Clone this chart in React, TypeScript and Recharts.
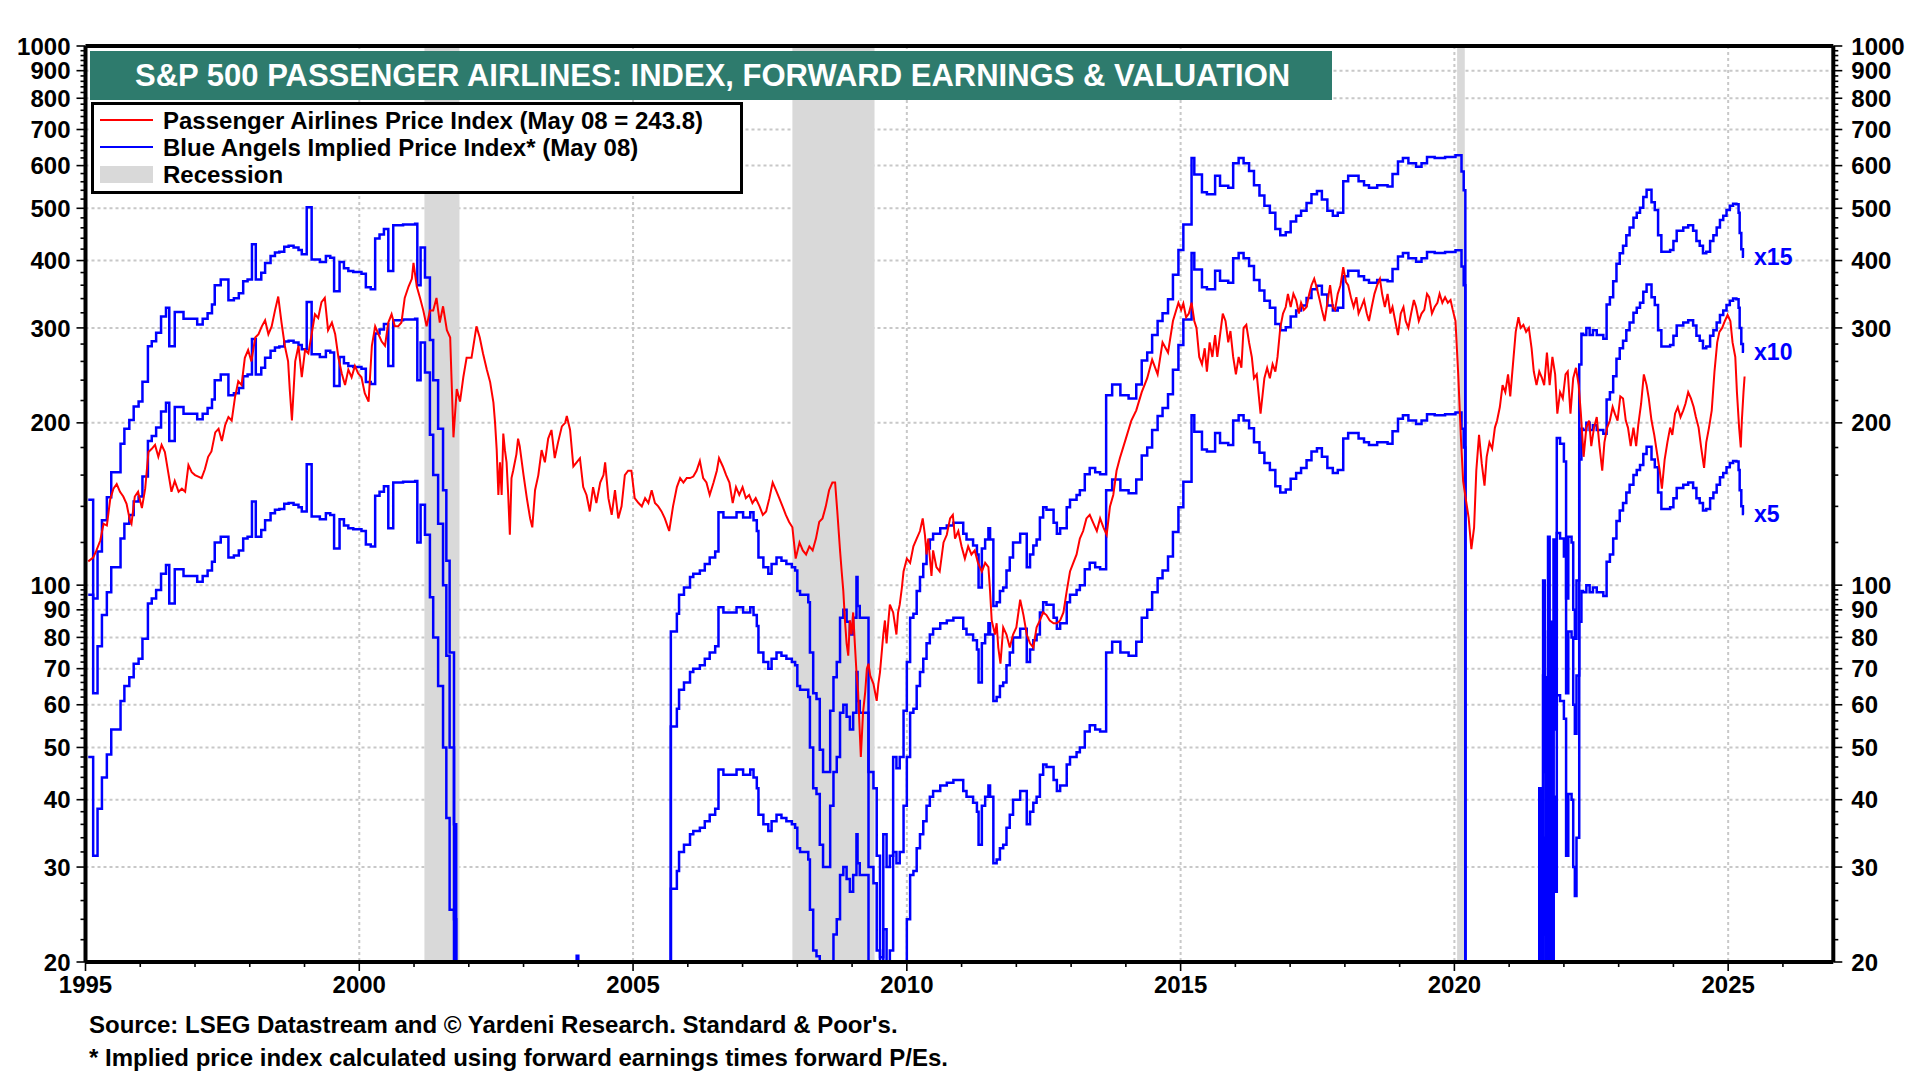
import React from "react";
import {
  LineChart,
  Line,
  XAxis,
  YAxis,
  CartesianGrid,
  ReferenceArea,
  ReferenceLine,
} from "recharts";

// ---------- DATA ----------
// S&P 500 Passenger Airlines price index (weekly-ish samples, [decimal year, value])
const priceIndex: [number, number][] = [
  [1995.05, 110.7], [1995.14, 112.5], [1995.2, 116], [1995.27, 121], [1995.33, 130], [1995.39, 129],
  [1995.45, 144], [1995.51, 151], [1995.57, 154], [1995.63, 149], [1995.69, 146], [1995.75, 141.5],
  [1995.81, 132], [1995.84, 130], [1995.9, 146], [1995.96, 149], [1996.03, 139], [1996.09, 151],
  [1996.15, 176.6], [1996.21, 179], [1996.27, 182], [1996.33, 173], [1996.39, 182], [1996.45, 176.6],
  [1996.51, 162], [1996.57, 149], [1996.63, 156], [1996.7, 149], [1996.76, 151], [1996.82, 149],
  [1996.88, 167], [1996.94, 162], [1997.0, 160], [1997.06, 159], [1997.12, 158], [1997.18, 164],
  [1997.24, 173], [1997.3, 177], [1997.37, 192], [1997.43, 195], [1997.49, 185], [1997.55, 198],
  [1997.61, 205], [1997.67, 202], [1997.73, 223], [1997.79, 239], [1997.85, 235], [1997.91, 264],
  [1997.97, 273], [1998.03, 260], [1998.1, 288], [1998.16, 292], [1998.22, 302], [1998.28, 310],
  [1998.34, 292], [1998.4, 302], [1998.46, 323], [1998.52, 343], [1998.58, 307], [1998.64, 278],
  [1998.7, 260], [1998.73, 231], [1998.77, 202], [1998.83, 260], [1998.89, 278], [1998.95, 243],
  [1999.01, 273], [1999.07, 269], [1999.13, 292], [1999.19, 318], [1999.25, 313], [1999.31, 335],
  [1999.37, 341], [1999.43, 297], [1999.5, 307], [1999.56, 292], [1999.62, 264], [1999.68, 247],
  [1999.74, 235], [1999.8, 251], [1999.86, 243], [1999.92, 255], [1999.98, 247], [2000.04, 243],
  [2000.1, 227], [2000.17, 219], [2000.23, 278], [2000.29, 302], [2000.35, 292], [2000.41, 283],
  [2000.47, 278], [2000.53, 307], [2000.59, 318], [2000.65, 302], [2000.71, 302], [2000.77, 307],
  [2000.83, 341], [2000.9, 358], [2000.96, 370], [2000.99, 396], [2001.05, 358], [2001.11, 341],
  [2001.17, 323], [2001.23, 302], [2001.29, 323], [2001.35, 323], [2001.41, 341], [2001.47, 307],
  [2001.53, 329], [2001.6, 297], [2001.66, 288], [2001.72, 188], [2001.78, 231], [2001.84, 219],
  [2001.9, 243], [2001.96, 264], [2002.05, 264], [2002.14, 302], [2002.2, 288], [2002.26, 269],
  [2002.33, 251], [2002.39, 238], [2002.45, 218], [2002.48, 200], [2002.51, 178], [2002.54, 147],
  [2002.57, 169], [2002.6, 147], [2002.63, 191], [2002.66, 178], [2002.69, 169], [2002.72, 147],
  [2002.75, 124], [2002.78, 158], [2002.81, 163], [2002.87, 175], [2002.9, 187], [2002.93, 181],
  [2003.0, 160], [2003.06, 145], [2003.12, 133], [2003.16, 128], [2003.21, 150], [2003.27, 160],
  [2003.33, 178], [2003.39, 169], [2003.45, 187], [2003.51, 194], [2003.57, 172], [2003.63, 184],
  [2003.7, 197], [2003.76, 200], [2003.79, 206], [2003.85, 194], [2003.91, 166], [2003.97, 169],
  [2004.03, 172], [2004.09, 152], [2004.15, 147], [2004.21, 137], [2004.27, 152], [2004.33, 142],
  [2004.4, 155], [2004.46, 160], [2004.49, 169], [2004.55, 145], [2004.61, 135], [2004.67, 150],
  [2004.73, 133], [2004.79, 140], [2004.85, 160], [2004.91, 163], [2004.97, 163], [2005.03, 145],
  [2005.1, 142], [2005.16, 140], [2005.22, 145], [2005.28, 142], [2005.34, 150], [2005.4, 142],
  [2005.46, 140], [2005.52, 137], [2005.58, 133], [2005.66, 126], [2005.73, 140], [2005.8, 152],
  [2005.86, 158], [2005.92, 155], [2005.98, 158], [2006.04, 158], [2006.1, 159], [2006.16, 163],
  [2006.22, 170], [2006.28, 158], [2006.34, 155], [2006.4, 147], [2006.47, 155], [2006.53, 163],
  [2006.57, 172], [2006.64, 166], [2006.7, 160], [2006.76, 155], [2006.82, 142], [2006.88, 152],
  [2006.94, 147], [2007.0, 152], [2007.06, 145], [2007.12, 147], [2007.18, 142], [2007.24, 145],
  [2007.31, 140], [2007.37, 135], [2007.43, 137], [2007.49, 145], [2007.55, 155], [2007.61, 150],
  [2007.67, 145], [2007.73, 140], [2007.79, 135], [2007.85, 131], [2007.91, 128], [2007.97, 112],
  [2008.04, 120], [2008.1, 116], [2008.16, 114], [2008.22, 118], [2008.28, 116], [2008.34, 122],
  [2008.4, 131], [2008.46, 133], [2008.52, 140], [2008.58, 150], [2008.64, 155], [2008.69, 155],
  [2008.73, 137], [2008.78, 116], [2008.81, 106], [2008.84, 97.5], [2008.87, 86], [2008.9, 78],
  [2008.93, 74], [2008.96, 86], [2008.99, 81], [2009.02, 89], [2009.05, 78], [2009.08, 69],
  [2009.11, 63.4], [2009.14, 53.4], [2009.16, 48], [2009.2, 58], [2009.24, 63.4], [2009.27, 70],
  [2009.3, 71.5], [2009.33, 68], [2009.39, 65.6], [2009.45, 61], [2009.48, 65.6], [2009.51, 69],
  [2009.57, 81], [2009.6, 86], [2009.63, 78], [2009.66, 85], [2009.69, 92], [2009.75, 89],
  [2009.81, 81], [2009.84, 89], [2009.87, 92], [2009.91, 99], [2009.94, 106], [2010.0, 112],
  [2010.06, 110], [2010.12, 118], [2010.18, 122], [2010.24, 126], [2010.29, 133], [2010.33, 124],
  [2010.36, 114], [2010.39, 122], [2010.45, 104], [2010.48, 116], [2010.54, 108], [2010.6, 106],
  [2010.67, 120], [2010.73, 124], [2010.79, 133], [2010.84, 135], [2010.88, 122], [2010.94, 126],
  [2011.0, 118], [2011.06, 112], [2011.12, 118], [2011.18, 114], [2011.24, 116], [2011.3, 110],
  [2011.37, 106], [2011.43, 110], [2011.49, 108], [2011.52, 97.5], [2011.55, 86], [2011.61, 81],
  [2011.64, 85], [2011.67, 76.6], [2011.71, 71.5], [2011.76, 83.5], [2011.82, 81], [2011.88, 76.6],
  [2011.94, 81], [2012.0, 83.5], [2012.07, 94], [2012.13, 88], [2012.19, 81], [2012.25, 78],
  [2012.31, 76.6], [2012.37, 83.5], [2012.43, 86], [2012.49, 89], [2012.55, 88], [2012.61, 86],
  [2012.68, 85], [2012.74, 85], [2012.8, 86], [2012.86, 89], [2012.92, 97.5], [2012.98, 106],
  [2013.04, 110], [2013.1, 114], [2013.16, 122], [2013.22, 126], [2013.28, 133], [2013.34, 135],
  [2013.41, 130], [2013.47, 126], [2013.53, 133], [2013.59, 128], [2013.65, 124], [2013.71, 140],
  [2013.77, 147], [2013.83, 163], [2013.89, 172], [2014.0, 187], [2014.1, 202], [2014.19, 211],
  [2014.29, 228], [2014.39, 242], [2014.48, 262], [2014.58, 246], [2014.67, 282], [2014.77, 270],
  [2014.86, 309], [2014.96, 334], [2015.01, 324], [2015.05, 333], [2015.1, 314], [2015.15, 319],
  [2015.2, 334], [2015.25, 309], [2015.29, 300], [2015.34, 265], [2015.39, 257], [2015.44, 275],
  [2015.48, 249], [2015.53, 282], [2015.58, 265], [2015.63, 291], [2015.67, 265], [2015.72, 291],
  [2015.77, 319], [2015.82, 309], [2015.87, 282], [2015.91, 296], [2015.96, 265], [2016.01, 246],
  [2016.06, 265], [2016.11, 253], [2016.15, 300], [2016.2, 304], [2016.25, 282], [2016.3, 265],
  [2016.34, 242], [2016.39, 246], [2016.46, 208], [2016.53, 242], [2016.58, 253], [2016.63, 242],
  [2016.68, 257], [2016.73, 249], [2016.77, 265], [2016.82, 300], [2016.87, 319], [2016.92, 328],
  [2016.96, 347], [2017.01, 328], [2017.06, 347], [2017.11, 338], [2017.16, 319], [2017.2, 334],
  [2017.25, 324], [2017.3, 328], [2017.35, 347], [2017.39, 360], [2017.44, 370], [2017.49, 355],
  [2017.54, 338], [2017.58, 324], [2017.63, 309], [2017.68, 334], [2017.73, 360], [2017.78, 328],
  [2017.82, 324], [2017.87, 347], [2017.92, 360], [2017.97, 389], [2018.02, 365], [2018.06, 360],
  [2018.11, 342], [2018.16, 328], [2018.21, 342], [2018.25, 319], [2018.3, 328], [2018.35, 338],
  [2018.4, 319], [2018.44, 309], [2018.49, 328], [2018.54, 347], [2018.59, 360], [2018.64, 370],
  [2018.68, 347], [2018.73, 328], [2018.78, 347], [2018.83, 319], [2018.87, 328], [2018.92, 309],
  [2018.97, 291], [2019.02, 319], [2019.07, 328], [2019.11, 309], [2019.16, 300], [2019.21, 319],
  [2019.26, 338], [2019.3, 328], [2019.35, 309], [2019.4, 319], [2019.45, 324], [2019.5, 347],
  [2019.54, 342], [2019.59, 319], [2019.64, 328], [2019.69, 334], [2019.73, 347], [2019.78, 334],
  [2019.83, 342], [2019.88, 334], [2019.93, 338], [2019.97, 324], [2020.02, 309], [2020.07, 246],
  [2020.12, 187], [2020.16, 156], [2020.21, 144], [2020.26, 133.5], [2020.31, 116.6], [2020.36, 128],
  [2020.4, 163], [2020.45, 190], [2020.5, 168], [2020.55, 153], [2020.59, 173], [2020.64, 184],
  [2020.69, 179], [2020.74, 196], [2020.78, 202], [2020.83, 214], [2020.88, 235], [2020.93, 228],
  [2020.98, 246], [2021.02, 224], [2021.07, 257], [2021.12, 295], [2021.17, 314], [2021.21, 300],
  [2021.26, 304], [2021.31, 295], [2021.36, 300], [2021.41, 275], [2021.45, 249], [2021.5, 235],
  [2021.55, 249], [2021.6, 242], [2021.64, 235], [2021.69, 270], [2021.74, 235], [2021.79, 265],
  [2021.84, 246], [2021.88, 208], [2021.93, 228], [2021.98, 222], [2022.03, 246], [2022.07, 249],
  [2022.12, 208], [2022.17, 242], [2022.22, 253], [2022.27, 235], [2022.31, 208], [2022.36, 173],
  [2022.41, 196], [2022.46, 202], [2022.5, 181], [2022.55, 196], [2022.6, 205], [2022.65, 181],
  [2022.7, 163], [2022.74, 184], [2022.79, 196], [2022.84, 202], [2022.89, 214], [2022.93, 208],
  [2022.98, 202], [2023.03, 224], [2023.08, 222], [2023.13, 202], [2023.17, 196], [2023.22, 181],
  [2023.27, 196], [2023.32, 181], [2023.36, 199], [2023.41, 217], [2023.46, 246], [2023.51, 235],
  [2023.55, 222], [2023.6, 202], [2023.65, 190], [2023.7, 176], [2023.75, 163], [2023.79, 151],
  [2023.84, 171], [2023.89, 184], [2023.94, 196], [2023.98, 190], [2024.03, 208], [2024.08, 214],
  [2024.13, 205], [2024.18, 211], [2024.22, 217], [2024.27, 228], [2024.32, 222], [2024.37, 214],
  [2024.41, 205], [2024.46, 196], [2024.51, 179], [2024.56, 165], [2024.6, 184], [2024.65, 196],
  [2024.7, 211], [2024.75, 249], [2024.8, 282], [2024.84, 295], [2024.89, 300], [2024.94, 309],
  [2024.99, 317], [2025.04, 309], [2025.08, 282], [2025.13, 265], [2025.16, 228], [2025.2, 196],
  [2025.23, 180], [2025.25, 202], [2025.28, 228], [2025.3, 243.8],
];

// Forward earnings (monthly steps, [decimal year, earnings]); -1 = negative / not meaningful
const forwardEarnings: [number, number][] = [
  [1995.05, 9.6], [1995.14, 6.3], [1995.22, 7.7], [1995.3, 8.8], [1995.39, 9.7], [1995.47, 10.8],
  [1995.64, 12.2], [1995.71, 13.0], [1995.8, 13.5], [1995.88, 14.3], [1995.97, 14.6], [1996.04, 15.9],
  [1996.14, 18.5], [1996.21, 18.9], [1996.29, 19.6], [1996.38, 21.0], [1996.47, 21.8], [1996.53, 18.5],
  [1996.63, 21.4], [1996.79, 20.8], [1997.04, 20.3], [1997.14, 20.8], [1997.23, 21.3], [1997.31, 22.1],
  [1997.36, 24.0], [1997.47, 24.6], [1997.61, 22.5], [1997.71, 22.7], [1997.8, 23.2], [1997.88, 24.4],
  [1997.96, 24.6], [1998.04, 28.6], [1998.11, 24.6], [1998.21, 25.3], [1998.28, 26.4], [1998.38, 27.2],
  [1998.46, 27.6], [1998.54, 27.7], [1998.63, 28.3], [1998.71, 28.4], [1998.8, 28.2], [1998.89, 27.9],
  [1998.95, 27.4], [1999.04, 33.5], [1999.13, 26.8], [1999.28, 26.5], [1999.39, 27.2], [1999.47, 27.0],
  [1999.54, 23.4], [1999.64, 26.5], [1999.72, 25.8], [1999.8, 25.5], [1999.89, 25.4], [2000.04, 25.2],
  [2000.12, 23.8], [2000.21, 23.6], [2000.29, 29.3], [2000.37, 29.8], [2000.45, 30.5], [2000.53, 25.5],
  [2000.62, 31.0], [2000.8, 31.1], [2001.02, 31.2], [2001.06, 24.0], [2001.12, 28.2], [2001.2, 24.8],
  [2001.29, 19.0], [2001.35, 16.0], [2001.44, 13.0], [2001.53, 10.0], [2001.59, 7.4], [2001.65, 5.0],
  [2001.73, 2.4], [2001.77, -1], [2003.97, 1.37], [2004.0, -1],
  [2005.69, 5.47], [2005.8, 5.9], [2005.84, 6.4], [2005.93, 6.6], [2006.04, 6.9], [2006.1, 7.0],
  [2006.22, 7.1], [2006.31, 7.3], [2006.4, 7.5], [2006.5, 7.7], [2006.56, 9.1], [2006.65, 8.9],
  [2006.89, 9.1], [2007.01, 8.9], [2007.14, 9.1], [2007.2, 8.8], [2007.26, 8.4], [2007.29, 7.5],
  [2007.38, 7.2], [2007.47, 7.0], [2007.53, 7.3], [2007.62, 7.5], [2007.71, 7.4], [2007.8, 7.3],
  [2007.9, 7.2], [2007.96, 7.1], [2008.0, 6.5], [2008.05, 6.4], [2008.2, 6.2], [2008.23, 5.0],
  [2008.29, 4.2], [2008.35, 4.1], [2008.41, 3.3], [2008.47, 3.0], [2008.6, 3.9], [2008.66, 4.5],
  [2008.72, 4.8], [2008.78, 5.8], [2008.84, 6.0], [2008.9, 5.7], [2008.96, 5.4], [2009.02, 5.8],
  [2009.08, 6.9], [2009.1, 6.1], [2009.14, 5.8], [2009.3, 3.0], [2009.39, 2.8], [2009.45, 2.1],
  [2009.51, 1.36], [2009.57, 2.3], [2009.63, 2.0], [2009.69, 2.1], [2009.75, 3.2], [2009.81, 3.05],
  [2009.87, 3.2], [2009.94, 3.9], [2010.0, 4.8], [2010.06, 5.8], [2010.12, 5.9], [2010.18, 6.5],
  [2010.24, 6.9], [2010.3, 7.3], [2010.36, 7.8], [2010.42, 8.1], [2010.48, 8.3], [2010.61, 8.5],
  [2010.73, 8.6], [2010.85, 8.7], [2011.03, 8.3], [2011.09, 8.1], [2011.21, 7.9], [2011.28, 7.6],
  [2011.31, 6.6], [2011.37, 7.8], [2011.43, 8.1], [2011.49, 8.5], [2011.52, 8.1], [2011.58, 6.1],
  [2011.64, 6.2], [2011.7, 6.5], [2011.76, 6.6], [2011.82, 7.1], [2011.88, 7.5], [2011.94, 8.0],
  [2012.07, 8.3], [2012.19, 7.2], [2012.25, 7.6], [2012.31, 7.9], [2012.37, 8.1], [2012.43, 8.9],
  [2012.49, 9.3], [2012.55, 9.2], [2012.68, 8.7], [2012.74, 8.3], [2012.8, 8.5], [2012.92, 9.3],
  [2012.98, 9.6], [2013.1, 9.8], [2013.16, 10.0], [2013.25, 10.7], [2013.34, 11.0], [2013.44, 10.8],
  [2013.53, 10.7], [2013.64, 15.0], [2013.75, 15.7], [2013.9, 15.0], [2014.05, 14.8], [2014.19, 15.7],
  [2014.29, 17.4], [2014.39, 18.0], [2014.48, 19.4], [2014.58, 20.6], [2014.67, 21.3], [2014.77, 22.6],
  [2014.86, 25.1], [2014.96, 27.9], [2015.05, 31.1], [2015.2, 41.3], [2015.25, 38.5], [2015.39, 35.7],
  [2015.48, 35.4], [2015.63, 38.3], [2015.72, 36.7], [2015.87, 36.4], [2015.96, 40.4], [2016.06, 41.3],
  [2016.15, 40.4], [2016.25, 39.1], [2016.34, 36.8], [2016.44, 35.2], [2016.53, 33.7], [2016.63, 32.7],
  [2016.73, 30.5], [2016.82, 29.7], [2016.92, 30.1], [2017.01, 31.5], [2017.11, 32.3], [2017.2, 33.0],
  [2017.3, 34.1], [2017.39, 35.4], [2017.49, 35.9], [2017.58, 34.6], [2017.68, 33.0], [2017.78, 32.3],
  [2017.87, 32.7], [2017.97, 37.4], [2018.06, 38.3], [2018.25, 37.4], [2018.35, 36.8], [2018.44, 36.4],
  [2018.59, 36.8], [2018.78, 36.6], [2018.87, 38.6], [2018.97, 40.7], [2019.06, 41.3], [2019.16, 40.4],
  [2019.3, 39.8], [2019.4, 40.4], [2019.5, 41.5], [2019.64, 41.3], [2019.83, 41.5], [2020.02, 41.8],
  [2020.13, 39.0], [2020.17, 36.0], [2020.2, -1],
  [2021.55, 2.8], [2021.59, 1.5], [2021.62, 6.8], [2021.65, 4.5], [2021.67, 0.8], [2021.69, 3.7],
  [2021.71, 8.2], [2021.74, 1.7], [2021.77, 5.7], [2021.79, 0.9], [2021.81, 8.1], [2021.84, 5.4],
  [2021.87, 12.5], [2021.93, 12.2], [2022.0, 11.3], [2022.04, 6.3], [2022.08, 8.2], [2022.14, 8.0],
  [2022.17, 6.0], [2022.2, 5.3], [2022.23, 6.8], [2022.28, 17.1], [2022.32, 19.5], [2022.35, 19.4],
  [2022.41, 20.0], [2022.47, 19.4], [2022.53, 19.8], [2022.6, 19.4], [2022.72, 19.1], [2022.78, 22.1],
  [2022.84, 22.8], [2022.9, 24.4], [2022.96, 26.3], [2023.02, 27.5], [2023.08, 28.4], [2023.14, 29.7],
  [2023.2, 30.7], [2023.27, 32.0], [2023.33, 32.7], [2023.39, 33.4], [2023.45, 35.0], [2023.51, 36.1],
  [2023.6, 34.2], [2023.66, 33.1], [2023.72, 29.7], [2023.78, 27.7], [2023.94, 27.9], [2024.0, 29.0],
  [2024.06, 30.3], [2024.18, 30.7], [2024.27, 31.0], [2024.36, 30.3], [2024.42, 29.0], [2024.48, 28.4],
  [2024.54, 27.5], [2024.6, 27.7], [2024.67, 29.0], [2024.73, 29.7], [2024.79, 30.7], [2024.85, 31.7],
  [2024.91, 32.3], [2024.97, 33.1], [2025.03, 33.7], [2025.09, 34.0], [2025.15, 33.9], [2025.19, 32.7],
  [2025.21, 30.0], [2025.24, 28.0], [2025.27, 27.1], [2025.29, 27.1],
];

const peMultiples = [15, 10, 5];
const multipleLabels = ["x15", "x10", "x5"];

const recessions: [number, number][] = [
  [2001.19, 2001.83],
  [2007.91, 2009.41],
  [2020.05, 2020.19],
];

const yMajorTicks = [20, 30, 40, 50, 60, 70, 80, 90, 100, 200, 300, 400, 500, 600, 700, 800, 900, 1000];
const yMinorTicks: number[] = [];
for (let v = 22; v < 100; v += 2) if (v % 10 !== 0) yMinorTicks.push(v);
for (let v = 120; v < 1000; v += 20) if (v % 100 !== 0) yMinorTicks.push(v);
const yAllTicks = [...yMajorTicks, ...yMinorTicks].sort((a, b) => a - b);

const xYearTicks: number[] = [];
for (let y = 1995; y <= 2026; y++) xYearTicks.push(y);
const xMajorTicks = xYearTicks.filter((y) => y % 5 === 0);
const xGridValues = xMajorTicks.filter((y) => y > 1995);
const yGridValues = yMajorTicks.filter((v) => v > 20 && v < 1000);

const TITLE = "S&P 500 PASSENGER AIRLINES: INDEX, FORWARD EARNINGS & VALUATION";
const LEGEND_PRICE = "Passenger Airlines Price Index (May 08 = 243.8)";
const LEGEND_IMPLIED = "Blue Angels Implied Price Index* (May 08)";
const LEGEND_RECESSION = "Recession";
const SOURCE_1 = "Source: LSEG Datastream and \u00A9 Yardeni Research. Standard & Poor's.";
const SOURCE_2 = "* Implied price index calculated using forward earnings times forward P/Es.";

// ---------- DERIVED TABLES ----------
const FLOOR = 1; // below axis range: shown as a plunge off the bottom
const priceData = priceIndex.map(([t, v]) => ({ t, v }));
const impliedData = peMultiples.map((m) =>
  forwardEarnings.map(([t, e]) => ({ t, v: e > 0 ? e * m : FLOOR }))
);

// ---------- STYLE ----------
const FONT = "'Liberation Sans', Arial, Helvetica, sans-serif";
const RED = "#FF0000";
const BLUE = "#0000FF";
const TEAL = "#2E7B6D";
const GRID = "#c8c8c8";
const RECESSION = "#D9D9D9";
const Y_TICK_SIZE = 8;
const Y_TICK_MARGIN = 10;
const X_TICK_SIZE = 8;
const X_TICK_MARGIN = 8;
const TICK_FONT = 24;
const majorY = new Set(yMajorTicks);

const YTick = (side: "left" | "right") => (props: any) => {
  const { x, y, payload } = props;
  const v = payload.value;
  const isMajor = majorY.has(v);
  const dir = side === "left" ? -1 : 1;
  const axisX = side === "left" ? x + Y_TICK_SIZE + Y_TICK_MARGIN : x - Y_TICK_SIZE - Y_TICK_MARGIN;
  const len = isMajor ? 9 : 5;
  return (
    <g>
      <line x1={axisX} x2={axisX + dir * len} y1={y} y2={y} stroke="#000" strokeWidth={1.6} />
      {isMajor && (
        <text
          x={axisX + dir * (side === "left" ? 15 : 18)}
          y={y}
          dy="0.36em"
          textAnchor={side === "left" ? "end" : "start"}
          fontFamily={FONT}
          fontWeight="bold"
          fontSize={TICK_FONT}
          fill="#000"
        >
          {v}
        </text>
      )}
    </g>
  );
};

const XTick = (props: any) => {
  const { x, y, payload } = props;
  const v = payload.value;
  const isMajor = v % 5 === 0;
  const axisY = y - X_TICK_SIZE - X_TICK_MARGIN;
  return (
    <g>
      <line x1={x} x2={x} y1={axisY} y2={axisY + (isMajor ? 9 : 5)} stroke="#000" strokeWidth={1.6} />
      {isMajor && (
        <text x={x} y={axisY + 14} dy="0.71em" textAnchor="middle" fontFamily={FONT} fontWeight="bold" fontSize={TICK_FONT} fill="#000">
          {v}
        </text>
      )}
    </g>
  );
};

const endLabel = (text: string, lastIndex: number) => (props: any) => {
  const { x, y, index } = props;
  if (index !== lastIndex) return null;
  return (
    <text x={x + 10} y={y} dy="0.36em" fontFamily={FONT} fontWeight="bold" fontSize={23} fill={BLUE}>
      {text}
    </text>
  );
};

export default function App() {
  return (
    <div style={{ position: "absolute", left: 0, top: 0, width: 1920, height: 1080, background: "#fff", fontFamily: FONT }}>
      <LineChart width={1920} height={1080} margin={{ top: 46, right: 10, bottom: 80, left: 10 }}>
        <CartesianGrid
          horizontal
          vertical
          horizontalValues={yGridValues}
          verticalValues={xGridValues}
          stroke={GRID}
          strokeWidth={2}
          strokeDasharray="3 3"
        />
        <XAxis
          type="number"
          dataKey="t"
          domain={[1995, 2026.92]}
          allowDataOverflow
          ticks={xYearTicks}
          interval={0}
          tick={XTick}
          tickLine={false}
          tickSize={X_TICK_SIZE}
          tickMargin={X_TICK_MARGIN}
          height={38}
          axisLine={{ stroke: "#000", strokeWidth: 4 }}
        />
        <YAxis
          scale="log"
          domain={[20, 1000]}
          allowDataOverflow
          ticks={yAllTicks}
          interval={0}
          tick={YTick("left")}
          tickLine={false}
          tickSize={Y_TICK_SIZE}
          tickMargin={Y_TICK_MARGIN}
          width={75.5}
          axisLine={{ stroke: "#000", strokeWidth: 4 }}
        />
        <YAxis
          yAxisId="right"
          orientation="right"
          scale="log"
          domain={[20, 1000]}
          allowDataOverflow
          ticks={yAllTicks}
          interval={0}
          tick={YTick("right")}
          tickLine={false}
          tickSize={Y_TICK_SIZE}
          tickMargin={Y_TICK_MARGIN}
          width={76.7}
          axisLine={{ stroke: "#000", strokeWidth: 4 }}
        />
        {recessions.map(([a, b], i) => (
          <ReferenceArea key={"r" + i} x1={a} x2={b} fill={RECESSION} fillOpacity={1} stroke="none" ifOverflow="hidden" />
        ))}
        <ReferenceLine y={1000} stroke="#000" strokeWidth={4} />
        {impliedData.map((d, i) => (
          <Line
            key={"m" + i}
            data={d}
            dataKey="v"
            type="stepAfter"
            stroke={BLUE}
            strokeWidth={2.5}
            dot={false}
            isAnimationActive={false}
            label={endLabel(multipleLabels[i], d.length - 1)}
          />
        ))}
        <Line data={priceData} dataKey="v" type="linear" stroke={RED} strokeWidth={2} dot={false} isAnimationActive={false} />
      </LineChart>

      {/* Title banner */}
      <div
        style={{
          position: "absolute",
          left: 90,
          top: 51,
          width: 1242,
          height: 49,
          background: TEAL,
          color: "#fff",
          fontWeight: "bold",
          fontSize: 31,
          lineHeight: "49px",
          paddingLeft: 45,
          boxSizing: "border-box",
          whiteSpace: "nowrap",
        }}
      >
        {TITLE}
      </div>

      {/* Legend */}
      <div
        style={{
          position: "absolute",
          left: 91,
          top: 102,
          width: 652,
          height: 92,
          border: "3px solid #000",
          background: "#fff",
          boxSizing: "border-box",
        }}
      >
        {[
          { label: LEGEND_PRICE, kind: "line", color: RED },
          { label: LEGEND_IMPLIED, kind: "line", color: BLUE },
          { label: LEGEND_RECESSION, kind: "box", color: RECESSION },
        ].map((item, i) => (
          <div key={i} style={{ position: "absolute", left: 0, top: 2 + i * 27, height: 27, width: "100%" }}>
            {item.kind === "line" ? (
              <div style={{ position: "absolute", left: 6, top: 12, width: 53, height: 2, background: item.color }} />
            ) : (
              <div style={{ position: "absolute", left: 6, top: 5, width: 53, height: 17, background: item.color }} />
            )}
            <div
              style={{
                position: "absolute",
                left: 69,
                top: 0,
                lineHeight: "27px",
                fontSize: 24,
                fontWeight: "bold",
                color: "#000",
                whiteSpace: "nowrap",
              }}
            >
              {item.label}
            </div>
          </div>
        ))}
      </div>

      {/* Source notes */}
      <div style={{ position: "absolute", left: 89, top: 1011, fontSize: 24, fontWeight: "bold", lineHeight: "28px", whiteSpace: "nowrap" }}>
        {SOURCE_1}
      </div>
      <div style={{ position: "absolute", left: 89, top: 1044, fontSize: 24, fontWeight: "bold", lineHeight: "28px", whiteSpace: "nowrap" }}>
        {SOURCE_2}
      </div>
    </div>
  );
}
